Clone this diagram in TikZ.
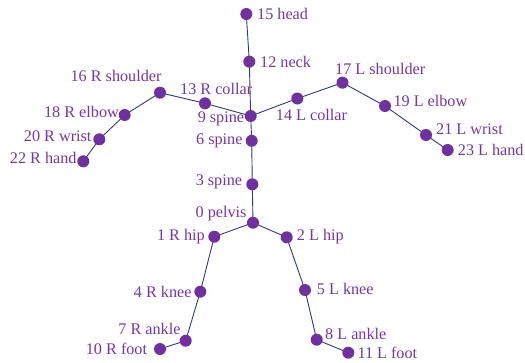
\documentclass[tikz,border=0pt]{standalone}
\usepackage{fontspec}
\setmainfont{Liberation Serif}
\usetikzlibrary{backgrounds}
\definecolor{jointc}{HTML}{7030A0}
\definecolor{labelc}{HTML}{7535A8}
\definecolor{bonec}{HTML}{2E3B7A}
\begin{document}
\begin{tikzpicture}[x=1pt,y=-1pt,
  joint/.style={circle,fill=jointc,inner sep=0pt,minimum size=12pt},
  bone/.style={draw=bonec,line width=0.9pt},
  lbl/.style={text=labelc,font=\fontsize{16.2}{18}\selectfont,inner sep=0pt}]
\useasboundingbox (0,0) rectangle (525,362);
% skeleton joints
\node[joint] (j15) at (246.3,14) {};
\node[joint] (j12) at (249.3,61.7) {};
\node[joint] (j9)  at (250.7,116) {};
\node[joint] (j13) at (205,103.3) {};
\node[joint] (j16) at (160,92.7) {};
\node[joint] (j18) at (124.7,115) {};
\node[joint] (j20) at (99.3,139.3) {};
\node[joint] (j22) at (83.3,161.3) {};
\node[joint] (j14) at (297.3,98.5) {};
\node[joint] (j17) at (342.5,82.7) {};
\node[joint] (j19) at (385,106) {};
\node[joint] (j21) at (426,135) {};
\node[joint] (j23) at (447.7,150) {};
\node[joint] (j6)  at (251.7,140.8) {};
\node[joint] (j3)  at (252.3,184.3) {};
\node[joint] (j0)  at (253,222.7) {};
\node[joint] (j1)  at (214.3,236.7) {};
\node[joint] (j2)  at (286.7,237.3) {};
\node[joint] (j4)  at (200.3,291.7) {};
\node[joint] (j7)  at (185.7,340.7) {};
\node[joint] (j10) at (160,349) {};
\node[joint] (j5)  at (305,290) {};
\node[joint] (j8)  at (316.7,339.7) {};
\node[joint] (j11) at (348.3,352.7) {};
% bones
\begin{scope}[on background layer]
\draw[bone] (j15.center) -- (j12.center) -- (j9.center) -- (j6.center) -- (j3.center) -- (j0.center);
\draw[bone] (j9.center) -- (j13.center) -- (j16.center) -- (j18.center) -- (j20.center) -- (j22.center);
\draw[bone] (j9.center) -- (j14.center) -- (j17.center) -- (j19.center) -- (j21.center) -- (j23.center);
\draw[bone] (j0.center) -- (j1.center) -- (j4.center) -- (j7.center) -- (j10.center);
\draw[bone] (j0.center) -- (j2.center) -- (j5.center) -- (j8.center) -- (j11.center);
\end{scope}
% labels
\node[lbl,anchor=west] (l15) at (257,14) {15 head};
\node[lbl,anchor=west] (l12) at (260,61.7) {12 neck};
\node[lbl,anchor=west] (l13) at (180,89.3) {13 R collar};
\node[lbl,anchor=east] (l9)  at (244.3,119) {9 spine};
\node[lbl,anchor=west] (l14) at (275.7,115) {14 L collar};
\node[lbl,anchor=east] (l16) at (161.7,76) {16 R shoulder};
\node[lbl,anchor=east] (l18) at (119,111.7) {18 R elbow};
\node[lbl,anchor=east] (l20) at (91.7,136) {20 R wrist};
\node[lbl,anchor=east] (l22) at (76.7,158.3) {22 R hand};
\node[lbl,anchor=east] (l6)  at (242.7,140.7) {6 spine};
\node[lbl,anchor=west] (l17) at (335,69) {17 L shoulder};
\node[lbl,anchor=west] (l19) at (393.3,100.7) {19 L elbow};
\node[lbl,anchor=west] (l21) at (436,129) {21 L wrist};
\node[lbl,anchor=west] (l23) at (457.7,150) {23 L hand};
\node[lbl,anchor=east] (l3)  at (242.3,182.3) {3 spine};
\node[lbl,anchor=east] (l0)  at (246.7,213.3) {0 pelvis};
\node[lbl,anchor=east] (l1)  at (205,236.7) {1 R hip};
\node[lbl,anchor=west] (l2)  at (296.7,237) {2 L hip};
\node[lbl,anchor=east] (l4)  at (191.7,291.7) {4 R knee};
\node[lbl,anchor=east] (l7)  at (180.7,329.3) {7 R ankle};
\node[lbl,anchor=east] (l10) at (147.3,349.3) {10 R foot};
\node[lbl,anchor=west] (l5)  at (316.7,289.3) {5 L knee};
\node[lbl,anchor=west] (l8)  at (325,334) {8 L ankle};
\node[lbl,anchor=west] (l11) at (357.3,352.7) {11 L foot};
\end{tikzpicture}
\end{document}
